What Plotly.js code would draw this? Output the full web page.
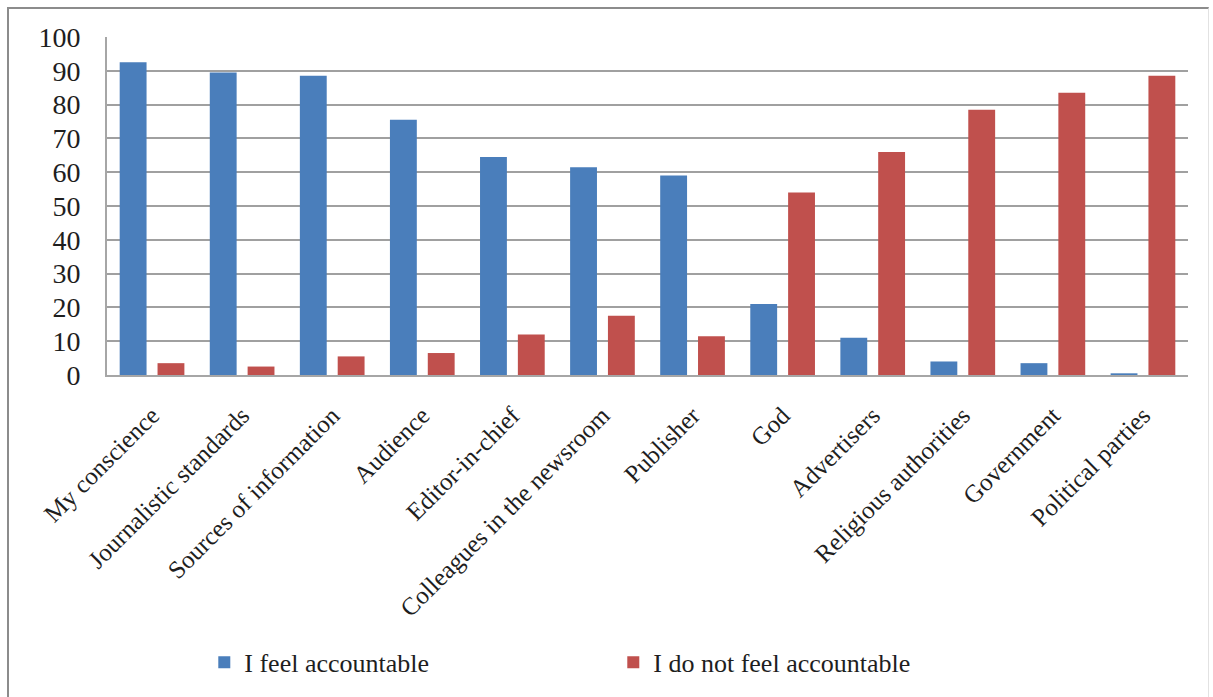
<!DOCTYPE html>
<html>
<head>
<meta charset="utf-8">
<script src="https://cdn.plot.ly/plotly-3.0.1.min.js"></script>
<style>
  html, body { margin: 0; padding: 0; background: #ffffff; overflow: hidden; }
  #frame {
    position: absolute; left: 7px; top: 7px; width: 1202px; height: 720px;
    border-left: 2px solid #8c8c8c; border-top: 2px solid #8c8c8c;
    border-right: 1px solid #e2e2e2;
    box-sizing: border-box; pointer-events: none; z-index: 2;
  }
  #chart { position: absolute; left: 0; top: 0; width: 1213px; height: 697px; }
</style>
</head>
<body>
<div id="chart"></div>
<div id="frame"></div>
<script>
// Who journalists feel accountable to (% of respondents)
const categories = [
  "My conscience", "Journalistic standards", "Sources of information", "Audience",
  "Editor-in-chief", "Colleagues in the newsroom", "Publisher", "God",
  "Advertisers", "Religious authorities", "Government", "Political parties"
];
const feelAccountable    = [92.5, 89.5, 88.5, 75.5, 64.5, 61.5, 59, 21, 11, 4, 3.5, 0.5];
const notFeelAccountable = [3.5, 2.5, 5.5, 6.5, 12, 17.5, 11.5, 54, 66, 78.5, 83.5, 88.5];
const yTicks = [0, 10, 20, 30, 40, 50, 60, 70, 80, 90, 100];

const serif = "Liberation Serif";
const ink = "#1e1e1e";

const traces = [
  {
    type: "bar", name: "I feel accountable",
    x: categories, y: feelAccountable,
    marker: { color: "#4a7ebb", line: { width: 0 } },
    hoverinfo: "x+y"
  },
  {
    type: "bar", name: "I do not feel accountable",
    x: categories, y: notFeelAccountable,
    marker: { color: "#c0504d", line: { width: 0 } },
    hoverinfo: "x+y"
  }
];

const layout = {
  width: 1213, height: 697,
  margin: { l: 107, r: 25, t: 37, b: 322 },
  paper_bgcolor: "#ffffff", plot_bgcolor: "#ffffff",
  barmode: "group", bargap: 0.16, bargroupgap: 0.29,
  font: { family: serif, color: ink, size: 24 },
  showlegend: true,
  legend: {
    orientation: "h", x: 0.09, xanchor: "left", y: -0.85, yanchor: "middle",
    font: { family: serif, size: 26, color: ink },
    entrywidth: 364, entrywidthmode: "pixels", itemwidth: 30,
    bgcolor: "rgba(0,0,0,0)"
  },
  xaxis: {
    type: "category", tickangle: -45,
    tickfont: { family: serif, size: 25, color: ink },
    showline: true, linecolor: "#a6a6a6", linewidth: 2,
    ticks: "outside", ticklen: 14, tickcolor: "rgba(0,0,0,0)",
    showgrid: false, fixedrange: true
  },
  yaxis: {
    range: [0, 100], tickvals: yTicks, ticktext: yTicks.map(String),
    tickfont: { family: serif, size: 28, color: ink },
    showgrid: true, gridcolor: "#a0a0a0", gridwidth: 2,
    showline: true, linecolor: "#a6a6a6", linewidth: 2,
    ticks: "outside", ticklen: 19, tickcolor: "rgba(0,0,0,0)",
    zeroline: false, fixedrange: true
  }
};

Plotly.newPlot("chart", traces, layout, { displayModeBar: false, staticPlot: true });
</script>
</body>
</html>
